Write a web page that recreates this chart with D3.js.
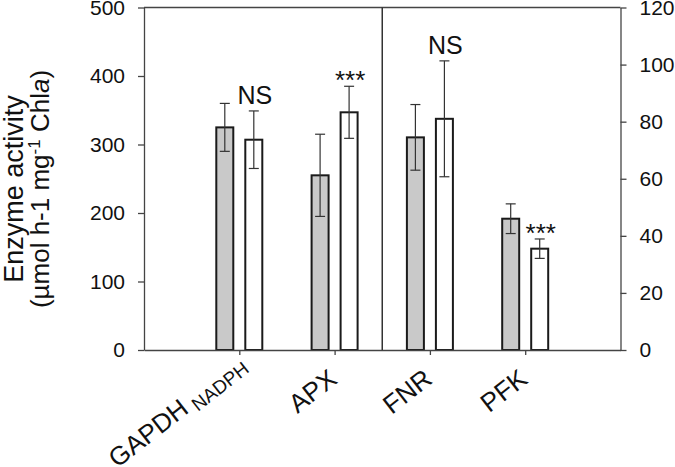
<!DOCTYPE html>
<html>
<head>
<meta charset="utf-8">
<script src="https://cdn.jsdelivr.net/npm/d3@7"></script>
<style>
  body { margin: 0; background: #fff; }
  svg text { font-family: "Liberation Sans", Arial, sans-serif; fill: #111; }
</style>
</head>
<body>
<script>
// enzyme categories, first two on left axis, last two on right axis
const enzymes = ["GAPDH", "APX", "FNR", "PFK"];
const enzymeSubs = ["NADPH", "", "", ""];
const axisSide = ["left", "left", "right", "right"];
const controlMean = [325, 255, 74.5, 46];
const controlErr = [35, 60, 11.5, 5.2];
const treatedMean = [307, 347, 81, 35.5];
const treatedErr = [42, 38, 20.3, 3.4];
const signif = ["NS", "***", "NS", "***"];
const leftTicks = [0, 100, 200, 300, 400, 500];
const rightTicks = [0, 20, 40, 60, 80, 100, 120];

const w = 675, h = 467,
      padL = 144, padR = 620.5,
      padT = 7.5, padB = 350;

const svg = d3.select("body").append("svg")
  .attr("width", w)
  .attr("height", h);

const x = d3.scaleLinear().domain([0, 5]).range([padL, padR]);
const sub = d3.scaleBand().domain(["control", "treated"]).range([-23, 23]).paddingInner(0.414);
const yL = d3.scaleLinear().domain([0, 500]).range([padB, padT]);
const yR = d3.scaleLinear().domain([0, 120]).range([padB, padT]);
const yOf = i => axisSide[i] === "left" ? yL : yR;

const rows = enzymes.map((e, i) => ({
  i, name: e, sub: enzymeSubs[i],
  bars: [
    { key: "control", v: controlMean[i], err: controlErr[i] },
    { key: "treated", v: treatedMean[i], err: treatedErr[i] }
  ],
  mark: signif[i]
}));

// bars
const groups = svg.append("g").selectAll("g")
  .data(rows).enter().append("g")
  .attr("transform", d => "translate(" + x(d.i + 1) + ",0)");

groups.selectAll("rect")
  .data(d => d.bars.map(b => ({ ...b, y: yOf(d.i) })))
  .enter().append("rect")
  .attr("x", b => sub(b.key))
  .attr("width", sub.bandwidth())
  .attr("y", b => b.y(b.v))
  .attr("height", b => b.y(0) - b.y(b.v))
  .attr("fill", b => b.key === "control" ? "#c9c9c9" : "#fff")
  .attr("stroke", "#1a1a1a")
  .attr("stroke-width", 2);

// error bars
const eb = groups.selectAll("g.err")
  .data(d => d.bars.map(b => ({ ...b, y: yOf(d.i) })))
  .enter().append("g").attr("class", "err")
  .attr("stroke", "#333").attr("stroke-width", 1.2);
const cx = b => sub(b.key) + sub.bandwidth() / 2;
eb.append("line")
  .attr("x1", cx).attr("x2", cx)
  .attr("y1", b => b.y(b.v + b.err)).attr("y2", b => b.y(b.v - b.err));
eb.append("line")
  .attr("x1", b => cx(b) - 5).attr("x2", b => cx(b) + 5)
  .attr("y1", b => b.y(b.v + b.err)).attr("y2", b => b.y(b.v + b.err));
eb.append("line")
  .attr("x1", b => cx(b) - 5).attr("x2", b => cx(b) + 5)
  .attr("y1", b => b.y(b.v - b.err)).attr("y2", b => b.y(b.v - b.err));

// significance marks above treated bar
groups.append("text")
  .attr("x", sub("treated") + sub.bandwidth() / 2 + 1)
  .attr("y", d => {
    const y = yOf(d.i);
    const t = y(treatedMean[d.i] + treatedErr[d.i]);
    return d.mark === "NS" ? t - 7 : t + 3;
  })
  .attr("text-anchor", "middle")
  .style("font-size", d => d.mark === "NS" ? "25px" : "26px")
  .text(d => d.mark);

// axes
const styleAxis = g => {
  g.selectAll("path, line").attr("stroke", "#444").attr("stroke-width", 1.3);
  g.selectAll("text").style("font-size", "21px").attr("fill", "#111");
};

svg.append("g")
  .attr("transform", "translate(" + padL + ",0)")
  .call(d3.axisLeft(yL).tickValues(leftTicks).tickSize(6).tickSizeOuter(0).tickPadding(13))
  .call(styleAxis);

svg.append("g")
  .attr("transform", "translate(" + padR + ",0)")
  .call(d3.axisRight(yR).tickValues(rightTicks).tickSize(6).tickSizeOuter(0).tickPadding(13))
  .call(styleAxis);

svg.append("g")
  .attr("transform", "translate(0," + padB + ")")
  .call(d3.axisBottom(x).tickValues([1, 2, 3, 4]).tickFormat("").tickSize(5).tickSizeOuter(0))
  .call(styleAxis);

// top frame line and divider
svg.append("line")
  .attr("x1", padL).attr("x2", padR).attr("y1", padT).attr("y2", padT)
  .attr("stroke", "#444").attr("stroke-width", 1.3);
svg.append("line")
  .attr("x1", x(2.5)).attr("x2", x(2.5)).attr("y1", padT).attr("y2", padB)
  .attr("stroke", "#333").attr("stroke-width", 1.5);

// x labels
const xl = svg.append("g").selectAll("text")
  .data(rows).enter().append("text")
  .attr("transform", d => "translate(" + (x(d.i + 1) + (d.sub ? 8 : 4)) + "," + (padB + (d.sub ? 17 : 32)) + ") rotate(-38)")
  .attr("text-anchor", "end")
  .style("font-size", "26px");
xl.append("tspan").text(d => d.name);
xl.filter(d => d.sub).append("tspan")
  .attr("dx", 6).attr("dy", 5)
  .style("font-size", "19px")
  .text(d => d.sub);

// y title
const yt = svg.append("text")
  .attr("transform", "translate(22.5,189) rotate(-90)")
  .attr("text-anchor", "middle")
  .style("font-size", "27px");
yt.append("tspan").attr("x", 0).attr("y", 0).text("Enzyme activity");
const l2 = yt.append("tspan").attr("x", 0).attr("y", 26).style("font-size", "26px");
l2.append("tspan").text("(µmol h-1 mg");
l2.append("tspan").attr("dy", -9).style("font-size", "17px").text("-1");
l2.append("tspan").attr("dy", 9).text(" Chl");
l2.append("tspan").style("font-style", "italic").text("a");
l2.append("tspan").text(")");
</script>
</body>
</html>
